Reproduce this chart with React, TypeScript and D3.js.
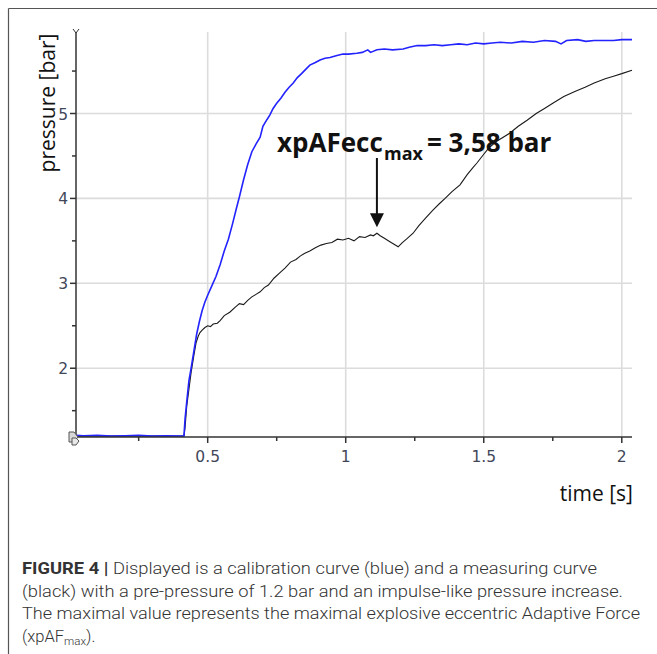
import React from "react";
import * as d3 from "d3";

// ---- data (time [s], pressure [bar]) ----
const blueCurve: [number, number][] = [
  [0.023, 1.21], [0.05, 1.205], [0.1, 1.21], [0.15, 1.2], [0.2, 1.205], [0.25, 1.21], [0.3, 1.2],
  [0.35, 1.205], [0.4, 1.2], [0.414, 1.2], [0.418, 1.4], [0.424, 1.6], [0.432, 1.85], [0.44, 2.0],
  [0.45, 2.2], [0.46, 2.4], [0.47, 2.55], [0.48, 2.68], [0.49, 2.78], [0.5, 2.86], [0.515, 2.97],
  [0.53, 3.08], [0.545, 3.22], [0.56, 3.38], [0.575, 3.52], [0.59, 3.7], [0.603, 3.87], [0.615, 4.02],
  [0.63, 4.22], [0.645, 4.4], [0.66, 4.55], [0.675, 4.64], [0.69, 4.72], [0.7, 4.85], [0.715, 4.93],
  [0.725, 4.98], [0.737, 5.06], [0.75, 5.12], [0.765, 5.18], [0.78, 5.25], [0.795, 5.31], [0.81, 5.36],
  [0.824, 5.42], [0.84, 5.47], [0.855, 5.52], [0.87, 5.57], [0.89, 5.6], [0.907, 5.63], [0.925, 5.65],
  [0.943, 5.66], [0.965, 5.68], [0.99, 5.7], [1.01, 5.7], [1.04, 5.71], [1.06, 5.72], [1.08, 5.75],
  [1.09, 5.72], [1.113, 5.75], [1.14, 5.76], [1.17, 5.75], [1.208, 5.76], [1.23, 5.78], [1.259, 5.8],
  [1.29, 5.8], [1.32, 5.81], [1.35, 5.8], [1.38, 5.81], [1.41, 5.82], [1.44, 5.81], [1.47, 5.83],
  [1.5, 5.82], [1.53, 5.83], [1.56, 5.84], [1.6, 5.83], [1.64, 5.85], [1.68, 5.84], [1.72, 5.86],
  [1.76, 5.85], [1.78, 5.82], [1.8, 5.86], [1.84, 5.87], [1.87, 5.85], [1.9, 5.86], [1.94, 5.86],
  [1.97, 5.86], [2.0, 5.87], [2.037, 5.87],
];

const blackCurve: [number, number][] = [
  [0.023, 1.2], [0.1, 1.2], [0.2, 1.2], [0.3, 1.2], [0.414, 1.2], [0.418, 1.3], [0.424, 1.55],
  [0.432, 1.75], [0.44, 1.95], [0.45, 2.15], [0.458, 2.3], [0.466, 2.38], [0.472, 2.42], [0.48, 2.45],
  [0.49, 2.48], [0.5, 2.5], [0.51, 2.49], [0.52, 2.52], [0.535, 2.53], [0.545, 2.56], [0.56, 2.62],
  [0.58, 2.66], [0.6, 2.72], [0.615, 2.76], [0.63, 2.75], [0.645, 2.8], [0.66, 2.84], [0.675, 2.87],
  [0.69, 2.9], [0.705, 2.95], [0.72, 2.98], [0.74, 3.06], [0.76, 3.12], [0.78, 3.18], [0.8, 3.25],
  [0.82, 3.28], [0.835, 3.32], [0.85, 3.35], [0.87, 3.38], [0.89, 3.42], [0.91, 3.45], [0.93, 3.47],
  [0.95, 3.48], [0.97, 3.52], [0.99, 3.51], [1.01, 3.53], [1.03, 3.5], [1.05, 3.55], [1.07, 3.54],
  [1.09, 3.57], [1.1, 3.56], [1.113, 3.59], [1.125, 3.56], [1.14, 3.53], [1.16, 3.49], [1.175, 3.46],
  [1.19, 3.43], [1.205, 3.48], [1.22, 3.52], [1.244, 3.59], [1.265, 3.68], [1.29, 3.77], [1.315, 3.86],
  [1.34, 3.94], [1.36, 4.0], [1.385, 4.08], [1.414, 4.16], [1.44, 4.28], [1.46, 4.36], [1.476, 4.42],
  [1.5, 4.52], [1.52, 4.6], [1.55, 4.68], [1.595, 4.77], [1.625, 4.85], [1.657, 4.92], [1.69, 5.0],
  [1.72, 5.06], [1.75, 5.12], [1.79, 5.2], [1.83, 5.26], [1.867, 5.31], [1.9, 5.36], [1.94, 5.41],
  [1.97, 5.44], [2.0, 5.47], [2.037, 5.51],
];

const xMajorTicks = [0.5, 1, 1.5, 2];
const xTickLabels = ["0.5", "1", "1.5", "2"];
const xMinorTicks = [0.25, 0.75, 1.25, 1.75];
const yMajorTicks = [2, 3, 4, 5];
const yTickLabels = ["2", "3", "4", "5"];
const yMinorTicks = [1.5, 2.5, 3.5, 4.5, 5.5];

const peakTime = 1.113;
const peakLabelMain = "xpAFecc";
const peakLabelSub = "max";
const peakLabelValue = "= 3,58 bar";

const captionLines = [
  "Displayed is a calibration curve (blue) and a measuring curve",
  "(black) with a pre-pressure of 1.2 bar and an impulse-like pressure increase.",
  "The maximal value represents the maximal explosive eccentric Adaptive Force",
];

const X_DOMAIN: [number, number] = [0.023, 2.037];
const Y_DOMAIN: [number, number] = [1.19, 5.96];

export default function App() {
  const x = d3.scaleLinear().domain(X_DOMAIN).range([76, 632]);
  const y = d3.scaleLinear().domain(Y_DOMAIN).range([437, 32]);
  const line = d3
    .line<[number, number]>()
    .x((d) => x(d[0]))
    .y((d) => y(d[1]));

  const tickColor = "#3f4759";
  const tickFont = "DejaVu Sans, Verdana, sans-serif";
  const labelFont = "Open Sans, Liberation Sans, sans-serif";
  const capFont = "Roboto, Liberation Sans, sans-serif";

  const ax = x(X_DOMAIN[0]);
  const ay = y(Y_DOMAIN[0]);
  const arrowX = x(peakTime);
  const arrowTip = y(3.66);

  return (
    <svg
      width={657}
      height={654}
      style={{ position: "absolute", left: 0, top: 0, background: "#fff" }}
    >
      {/* frame */}
      <line x1={8.5} y1={8.5} x2={657} y2={8.5} stroke="#555" strokeWidth={1.2} />
      <line x1={8.5} y1={8.5} x2={8.5} y2={654} stroke="#555" strokeWidth={1.2} />

      {/* grid */}
      {xMajorTicks.map((t) => (
        <line key={"gx" + t} x1={x(t)} x2={x(t)} y1={y(Y_DOMAIN[1])} y2={ay} stroke="#dcdcdc" strokeWidth={1.6} />
      ))}
      {yMajorTicks.map((t) => (
        <line key={"gy" + t} x1={ax} x2={x(X_DOMAIN[1])} y1={y(t)} y2={y(t)} stroke="#dcdcdc" strokeWidth={1.6} />
      ))}

      {/* curves */}
      <path d={line(blackCurve) || ""} fill="none" stroke="#1a1a1a" strokeWidth={1.1} />
      <path d={line(blueCurve) || ""} fill="none" stroke="#2323ff" strokeWidth={1.6} />

      {/* axes */}
      <line x1={ax} x2={x(X_DOMAIN[1])} y1={ay} y2={ay} stroke="#333" strokeWidth={1.5} />
      <line x1={ax} x2={ax} y1={ay} y2={y(Y_DOMAIN[1])} stroke="#333" strokeWidth={1.5} />
      {/* arrow-fork at top of y axis */}
      <path
        d={`M${ax - 3},${y(Y_DOMAIN[1]) - 3} L${ax},${y(Y_DOMAIN[1]) + 1} L${ax + 3},${y(Y_DOMAIN[1]) - 3}`}
        fill="none"
        stroke="#333"
        strokeWidth={1}
      />

      {xMajorTicks.map((t, i) => (
        <g key={"xt" + t}>
          <line x1={x(t)} x2={x(t)} y1={ay} y2={ay + 6} stroke="#333" strokeWidth={1.5} />
          <text x={x(t)} y={462} textAnchor="middle" fontFamily={tickFont} fontSize={15.5} fill={tickColor}>
            {xTickLabels[i]}
          </text>
        </g>
      ))}
      {xMinorTicks.map((t) => (
        <line key={"xm" + t} x1={x(t)} x2={x(t)} y1={ay} y2={ay + 4} stroke="#333" strokeWidth={1.5} />
      ))}
      {yMajorTicks.map((t, i) => (
        <g key={"yt" + t}>
          <line x1={ax - 6} x2={ax} y1={y(t)} y2={y(t)} stroke="#333" strokeWidth={1.5} />
          <text x={68} y={y(t) + 6} textAnchor="end" fontFamily={tickFont} fontSize={15.5} fill={tickColor}>
            {yTickLabels[i]}
          </text>
        </g>
      ))}
      {yMinorTicks.map((t) => (
        <line key={"ym" + t} x1={ax - 4} x2={ax} y1={y(t)} y2={y(t)} stroke="#333" strokeWidth={1.5} />
      ))}

      {/* origin marker */}
      <path d={`M${ax - 7},${ay - 5} L${ax - 2},${ay - 5} L${ax + 2},${ay} L${ax - 2},${ay + 5} L${ax - 7},${ay + 5} Z`}
        fill="#d8d8d8" stroke="#555" strokeWidth={1} />
      <path d={`M${ax - 4},${ay + 1} L${ax},${ay + 1} L${ax + 3},${ay + 4} L${ax},${ay + 8} L${ax - 4},${ay + 8} Z`}
        fill="#e8e8e8" stroke="#555" strokeWidth={1} />

      {/* axis titles */}
      <text
        transform="translate(55,103) rotate(-90)"
        textAnchor="middle"
        fontFamily={labelFont}
        fontSize={21}
        fill="#111"
      >
        pressure [bar]
      </text>
      <text x={633} y={501} textAnchor="end" fontFamily={labelFont} fontSize={21} fill="#111">
        time [s]
      </text>

      {/* annotation */}
      <text x={277} y={152} fontFamily={labelFont} fontWeight={700} fontSize={26} fill="#111">
        {peakLabelMain}
      </text>
      <text x={384} y={160} fontFamily={labelFont} fontWeight={700} fontSize={18} fill="#111">
        {peakLabelSub}
      </text>
      <text x={427} y={152} fontFamily={labelFont} fontWeight={700} fontSize={26} fill="#111">
        {peakLabelValue}
      </text>
      <line x1={arrowX} x2={arrowX} y1={158} y2={arrowTip - 12} stroke="#111" strokeWidth={2} />
      <path d={`M${arrowX - 7},${arrowTip - 14} L${arrowX + 7},${arrowTip - 14} L${arrowX},${arrowTip} Z`} fill="#111" />

      {/* caption */}
      <text x={22} y={574} fontFamily={capFont} fontSize={16.5} fill="#333" fontWeight={300} textLength={575} lengthAdjust="spacingAndGlyphs">
        <tspan fontWeight={700}>FIGURE 4 | </tspan>
        {captionLines[0]}
      </text>
      <text x={22} y={597} fontFamily={capFont} fontSize={16.5} fill="#333" fontWeight={300} textLength={601} lengthAdjust="spacingAndGlyphs">
        {captionLines[1]}
      </text>
      <text x={22} y={619} fontFamily={capFont} fontSize={16.5} fill="#333" fontWeight={300} textLength={618} lengthAdjust="spacingAndGlyphs">
        {captionLines[2]}
      </text>
      <text x={22} y={642} fontFamily={capFont} fontSize={16.5} fill="#333" fontWeight={300}>
        (xpAF
        <tspan fontSize={11.5} dy={3}>max</tspan>
        <tspan dy={-3}>).</tspan>
      </text>
    </svg>
  );
}
